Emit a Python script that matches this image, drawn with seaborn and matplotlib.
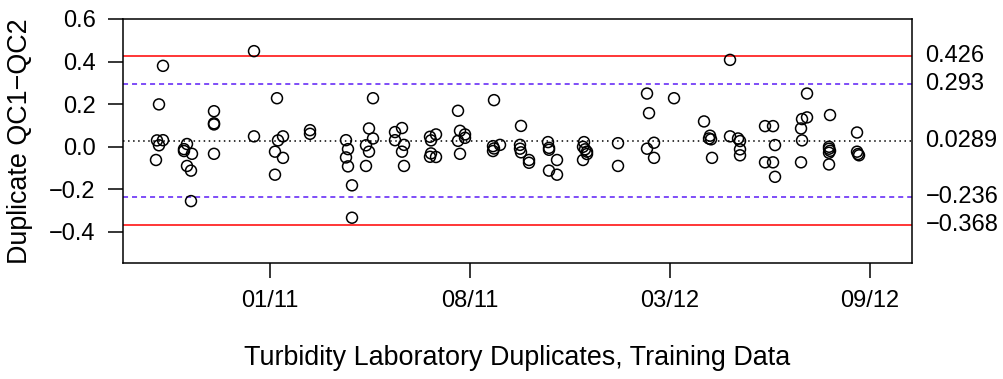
import numpy as np
import pandas as pd
import seaborn as sns
import matplotlib
matplotlib.use('Agg')
from matplotlib import pyplot as plt
from matplotlib import transforms

# sample dates as days since 1970-01-01, and QC1 - QC2 differences
day_num = [14893, 14889, 14887, 14889, 14893, 14886, 14917, 14914, 14914, 14922,
           14917, 14921, 14921, 14944, 14944, 14944, 14944, 14984, 14984, 15007,
           15013, 15008, 15005, 15013, 15005, 15040, 15040, 15076, 15078, 15076,
           15078, 15082, 15082, 15103, 15099, 15103, 15096, 15099, 15096, 15125,
           15132, 15125, 15134, 15132, 15134, 15160, 15166, 15161, 15161, 15160,
           15166, 15188, 15190, 15195, 15188, 15195, 15190, 15224, 15223, 15230,
           15223, 15224, 15251, 15250, 15250, 15251, 15259, 15259, 15278, 15279,
           15279, 15287, 15279, 15287, 15314, 15313, 15315, 15317, 15317, 15313,
           15348, 15348, 15377, 15379, 15384, 15377, 15384, 15404, 15434, 15440,
           15439, 15441, 15442, 15460, 15460, 15468, 15470, 15470, 15470, 15495,
           15503, 15505, 15495, 15503, 15505, 15537, 15537, 15532, 15531, 15532,
           15531, 15560, 15559, 15559, 15560, 15559, 15559, 15587, 15587, 15588,
           15589]
qc_diff = [0.380, 0.199, 0.030, 0.007, 0.031, -0.062, 0.013, -0.011, -0.020, -0.033,
           -0.090, -0.112, -0.255, 0.167, 0.110, 0.105, -0.033, 0.449, 0.049, 0.228,
           0.049, 0.030, -0.023, -0.052, -0.131, 0.078, 0.061, 0.031, -0.011, -0.050,
           -0.092, -0.181, -0.333, 0.228, 0.086, 0.039, 0.007, -0.023, -0.090, 0.069,
           0.088, 0.031, 0.009, -0.023, -0.090, 0.047, 0.058, 0.030, -0.031, -0.047,
           -0.048, 0.169, 0.075, 0.058, 0.028, 0.042, -0.033, 0.219, 0.003, 0.009,
           -0.020, -0.008, 0.098, 0.009, -0.009, -0.026, -0.062, -0.075, 0.022, -0.005,
           -0.014, -0.062, -0.112, -0.131, 0.022, 0.000, -0.012, -0.023, -0.034, -0.062,
           0.017, -0.090, 0.250, 0.158, 0.019, -0.009, -0.052, 0.228, 0.119, 0.052,
           0.039, 0.035, -0.052, 0.408, 0.049, 0.039, 0.027, -0.012, -0.040, 0.097,
           0.097, 0.008, -0.073, -0.073, -0.141, 0.250, 0.138, 0.130, 0.086, 0.030,
           -0.073, 0.149, 0.000, -0.009, -0.019, -0.028, -0.083, 0.067, -0.023, -0.034,
           -0.040]

# control limits: upper/lower control, upper/lower warning, mean
limit_vals = [0.426, -0.368, 0.293, -0.236, 0.0289]
limit_labels = ['0.426', '\u22120.368', '0.293', '\u22120.236', '0.0289']

tick_days = [15000, 15200, 15400, 15600]
tick_labels = ['01/11', '08/11', '03/12', '09/12']
ytick_vals = [-0.4, -0.2, 0.0, 0.2, 0.4, 0.6]
ytick_labels = ['\u22120.4', '\u22120.2', '0.0', '0.2', '0.4', '0.6']

df = pd.DataFrame({'date': pd.to_datetime(day_num, unit='D'), 'diff': qc_diff})

sns.set_style('ticks')
plt.rcParams['font.family'] = ['Liberation Sans', 'DejaVu Sans']
plt.rcParams['font.size'] = 17
plt.rcParams['text.color'] = 'black'
plt.rcParams['axes.labelcolor'] = 'black'
plt.rcParams['xtick.color'] = 'black'
plt.rcParams['ytick.color'] = 'black'

fig, ax = plt.subplots(figsize=(10.04, 3.79), dpi=100)
fig.subplots_adjust(left=0.1222, right=0.9084, bottom=0.3053, top=0.9499)

line_styles = [('red', (None, None)), ('red', (None, None)),
               ('#5b1cf5', (3.3, 2.6)), ('#5b1cf5', (3.3, 2.6)),
               ('black', (1.0, 2.3))]
for val, lab, (col, dash) in zip(limit_vals, limit_labels, line_styles):
    ln = ax.axhline(val, color=col, lw=1.1, zorder=1)
    if dash[0] is not None:
        ln.set_dashes(dash)

sns.scatterplot(data=df, x='date', y='diff', ax=ax, marker='o', s=62,
                facecolor='none', edgecolor='black', linewidth=1.1, zorder=3)

trans = transforms.blended_transform_factory(ax.transAxes, ax.transData)
for val, lab in zip(limit_vals, limit_labels):
    ax.text(1.017, val, lab, transform=trans, ha='left', va='center',
            fontsize=17, color='black')

ax.set_xlim(14852.7, 15642)
ax.set_ylim(-0.547, 0.599)
ax.set_xticks(tick_days)
ax.set_xticklabels(tick_labels)
ax.set_yticks(ytick_vals)
ax.set_yticklabels(ytick_labels)
ax.tick_params(axis='both', direction='out', length=10.5, width=1.1,
               color='black', labelcolor='black', labelsize=17, pad=9)

for sp in ax.spines.values():
    sp.set_visible(True)
    sp.set_color('black')
    sp.set_linewidth(1.1)

ax.set_xlabel('Turbidity Laboratory Duplicates, Training Data', fontsize=19.4,
              color='black')
ax.set_ylabel('Duplicate QC1\u2212QC2', fontsize=19.4, color='black')
ax.xaxis.set_label_coords(0.5, -0.335)
ax.yaxis.set_label_coords(-0.114, 0.5)

fig.savefig('out.png', dpi=100)
